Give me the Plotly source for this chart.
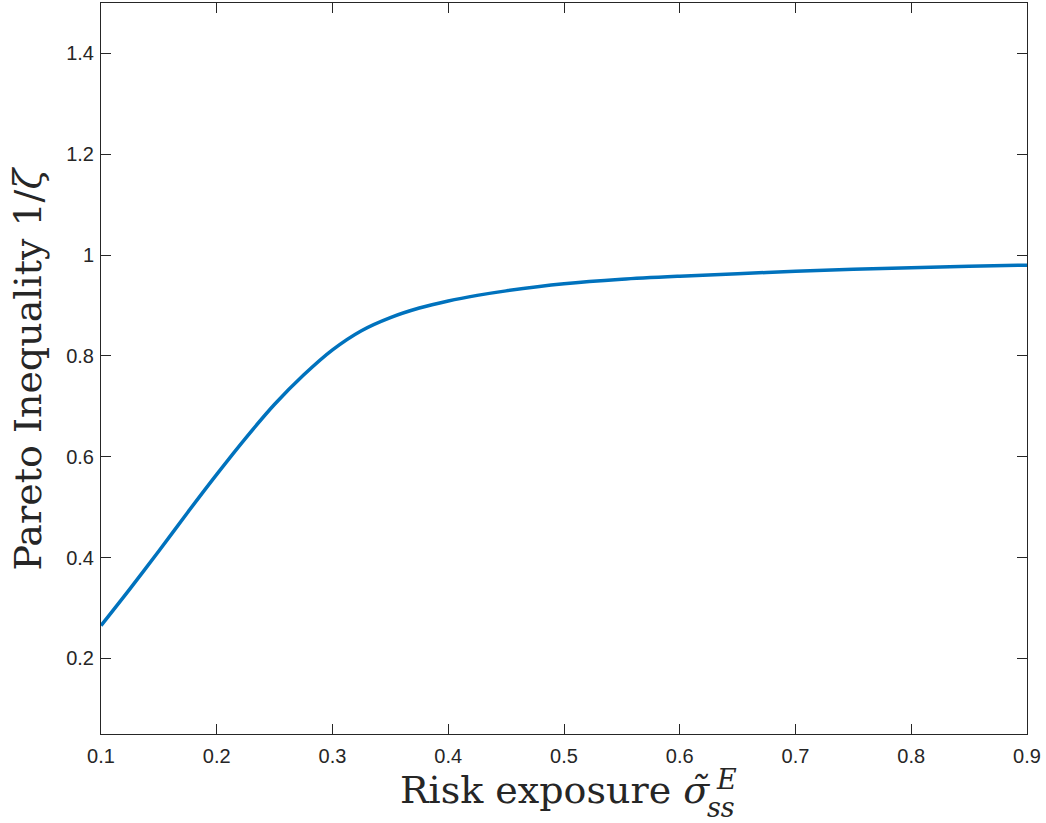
import plotly.graph_objects as go

# Data
risk_exposure = [0.1, 0.125, 0.15, 0.175, 0.2, 0.225, 0.25, 0.275, 0.3, 0.325, 0.35, 0.375,
                 0.4, 0.425, 0.45, 0.5, 0.55, 0.6, 0.65, 0.7, 0.75, 0.8, 0.85, 0.9]
pareto_inequality = [0.265, 0.338, 0.413, 0.490, 0.565, 0.637, 0.704, 0.762, 0.812, 0.850, 0.876, 0.895,
                     0.909, 0.920, 0.929, 0.943, 0.952, 0.958, 0.963, 0.968, 0.972, 0.975, 0.978, 0.980]

x_ticks = [0.1, 0.2, 0.3, 0.4, 0.5, 0.6, 0.7, 0.8, 0.9]
x_tick_labels = ["0.1", "0.2", "0.3", "0.4", "0.5", "0.6", "0.7", "0.8", "0.9"]
y_ticks = [0.2, 0.4, 0.6, 0.8, 1.0, 1.2, 1.4]
y_tick_labels = ["0.2", "0.4", "0.6", "0.8", "1", "1.2", "1.4"]

AX = "#262626"
fig = go.Figure()
fig.add_trace(go.Scatter(
    x=risk_exposure, y=pareto_inequality, mode="lines",
    line=dict(color="#0072BD", width=3.5, shape="spline", smoothing=0.8),
    showlegend=False, hoverinfo="skip"))

axis_common = dict(showgrid=False, zeroline=False, showline=True, linecolor=AX, linewidth=1,
                   mirror="ticks", ticks="inside", ticklen=10, tickcolor=AX, tickwidth=1,
                   tickfont=dict(family="Liberation Sans", size=20, color=AX))

fig.update_xaxes(range=[0.1, 0.9], tickvals=x_ticks, ticktext=x_tick_labels,
                 ticklabelstandoff=4, **axis_common)
fig.update_yaxes(range=[0.05, 1.5], tickvals=y_ticks, ticktext=y_tick_labels,
                 ticklabelstandoff=2, **axis_common)

serif = "DejaVu Serif"
# x-axis title pieces (positions in pixels relative to plot-area left edge / bottom)
fig.add_annotation(xref="paper", yref="paper", x=0, y=0, xshift=297, yshift=-80,
                   xanchor="left", yanchor="bottom", showarrow=False,
                   text="Risk exposure <i>σ̃</i>",
                   font=dict(family=serif, size=38, color=AX))
fig.add_annotation(xref="paper", yref="paper", x=0, y=0, xshift=604, yshift=-91,
                   xanchor="left", yanchor="bottom", showarrow=False,
                   text="<i>ss</i>", font=dict(family=serif, size=27, color=AX))
fig.add_annotation(xref="paper", yref="paper", x=0, y=0, xshift=613, yshift=-63,
                   xanchor="left", yanchor="bottom", showarrow=False,
                   text="<i>E</i>", font=dict(family=serif, size=27, color=AX))
# y-axis title
fig.add_annotation(xref="paper", yref="paper", x=0, y=0.5, xshift=-74,
                   xanchor="center", yanchor="middle", showarrow=False, textangle=-90,
                   text="Pareto Inequality 1/<i>ζ</i>",
                   font=dict(family=serif, size=38, color=AX))

fig.update_layout(width=1046, height=823, margin=dict(l=101, r=19, t=3, b=89),
                  paper_bgcolor="white", plot_bgcolor="white")
fig.write_html("out.html")
